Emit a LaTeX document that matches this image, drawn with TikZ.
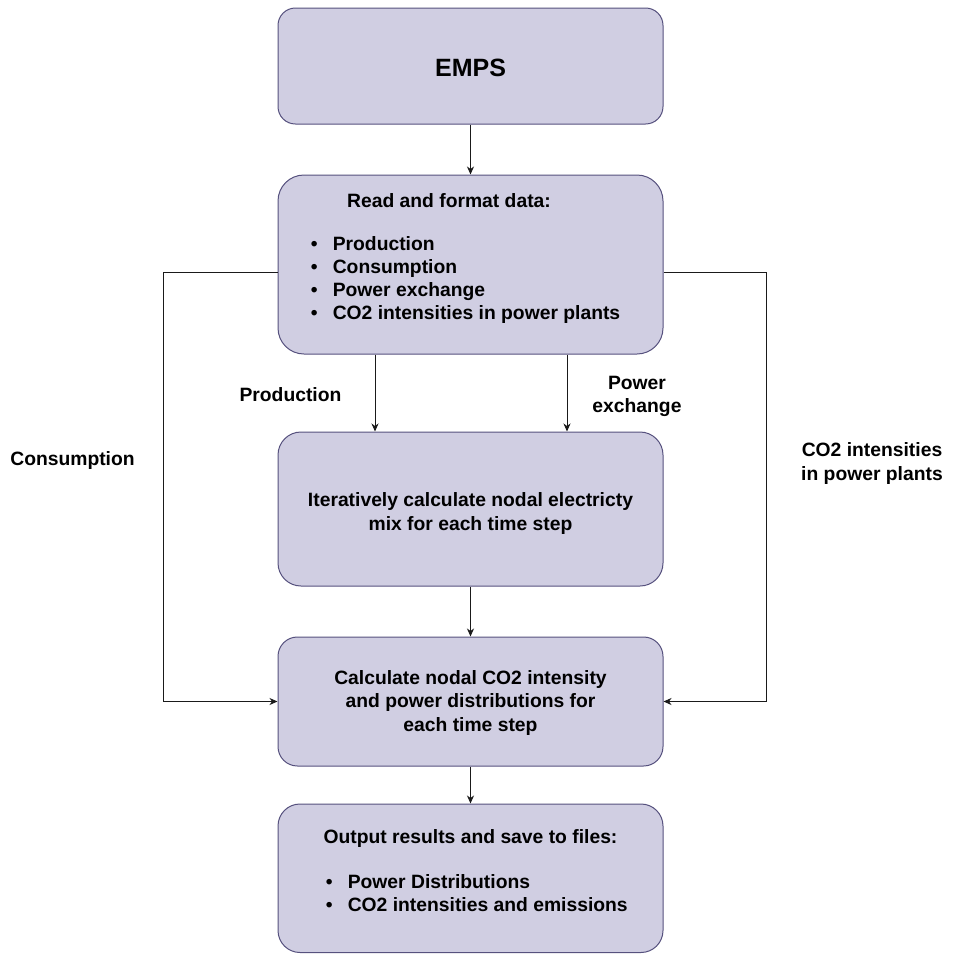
\documentclass[tikz,border=0pt]{standalone}
\usepackage{fontspec}
\setmainfont{Liberation Sans}
\usetikzlibrary{arrows.meta}
\definecolor{boxfill}{HTML}{D0CEE2}
\definecolor{boxline}{HTML}{56517E}
\definecolor{wirecol}{HTML}{1A1A1A}
\newcommand{\mlines}[1]{\begin{tabular}[t]{@{}c@{}}#1\end{tabular}}
\newcommand{\blist}[1]{\begin{tabular}[t]{@{}p{22pt}@{}l@{}}#1\end{tabular}}
\begin{document}
\begin{tikzpicture}[x=1pt,y=-1pt,
  box/.style={draw=boxline, fill=boxfill, line width=1pt, inner sep=0pt, minimum width=385pt},
  txt/.style={font=\fontsize{19.3}{23.5}\selectfont\bfseries, inner sep=0pt, anchor=base},
  lst/.style={font=\fontsize{19.3}{23}\selectfont\bfseries, inner sep=0pt, anchor=base west},
  arr/.style={draw=wirecol, line width=1pt, -{Stealth[length=8pt,width=7pt,inset=2.5pt]}}]
\useasboundingbox (0,0) rectangle (953,954);

% boxes
\node[box, minimum height=116pt, rounded corners=17.4pt] (b1) at (470.5,66) {};
\node[box, minimum height=179pt, rounded corners=26pt] (b2) at (470.5,264.5) {};
\node[box, minimum height=154pt, rounded corners=23pt] (b3) at (470.5,509) {};
\node[box, minimum height=129pt, rounded corners=19.4pt] (b4) at (470.5,701.5) {};
\node[box, minimum height=148.5pt, rounded corners=22pt] (b5) at (470.5,878.25) {};

% box texts
\node[txt, font=\fontsize{25}{30}\selectfont\bfseries] (t1) at (470.5,76) {EMPS};
\node[txt] (t2) at (449,207) {Read and format data:};
\node[lst] (l2) at (310.6,250) {\blist{\textbullet & Production\\ \textbullet & Consumption\\ \textbullet & Power exchange\\ \textbullet & CO2 intensities in power plants}};
\node[txt] (t3) at (470.5,506.7) {\mlines{Iteratively calculate nodal electricty\\ mix for each time step}};
\node[txt] (t4) at (470.5,684) {\mlines{Calculate nodal CO2 intensity\\ and power distributions for\\ each time step}};
\node[txt] (t5) at (470.5,843) {Output results and save to files:};
\node[lst] (l5) at (325.6,888) {\blist{\textbullet & Power Distributions\\ \textbullet & CO2 intensities and emissions}};

% connector labels
\node[txt] (lp) at (290.5,401) {Production};
\node[txt] (lc) at (72.5,465) {Consumption};
\node[txt] (le) at (637,389) {\mlines{Power\\ exchange}};
\node[txt] (li) at (872,456.7) {\mlines{CO2 intensities\\ in power plants}};

% connectors
\coordinate (cl) at (163,272);
\coordinate (cr) at (766,272);
\draw[arr] (b1) -- (b2);
\draw[arr] ([xshift=-95.5pt]b2.south) -- ([xshift=-95.5pt]b3.north);
\draw[arr] ([xshift=96.5pt]b2.south) -- ([xshift=96.5pt]b3.north);
\draw[arr] (b3) -- (b4);
\draw[arr] (b4) -- (b5);
\draw[arr] (b2.west |- cl) -- (cl) |- (b4.west);
\draw[arr] (b2.east |- cr) -- (cr) |- (b4.east);
\end{tikzpicture}
\end{document}
